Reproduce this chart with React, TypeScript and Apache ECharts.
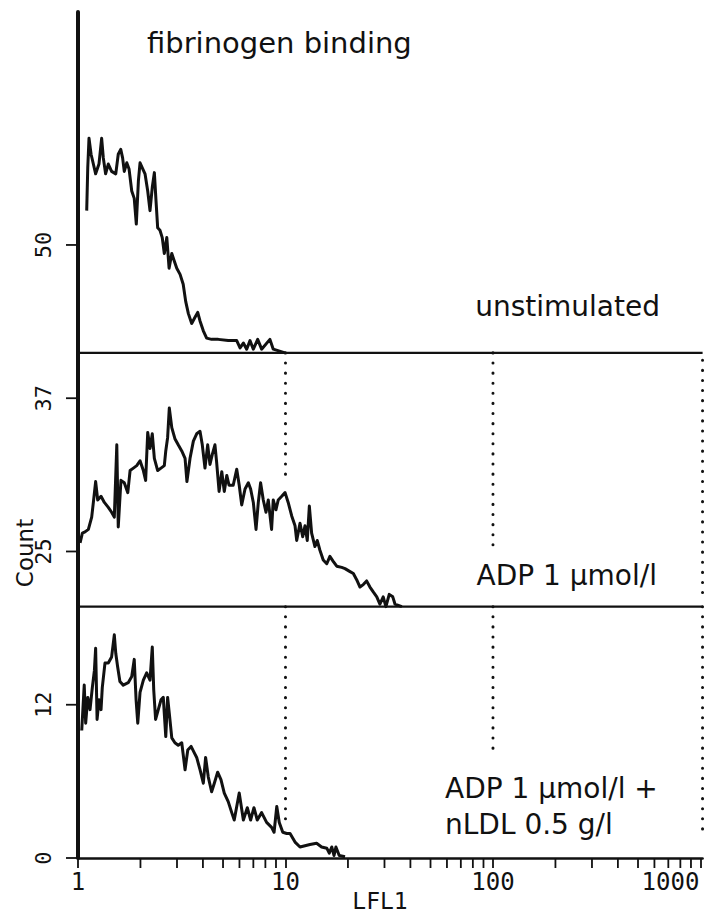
import React, { useEffect, useRef } from "react";
import * as echarts from "echarts";

// x positions are in decades of LFL1 (log10 of fluorescence), counts are per histogram above its own baseline
const unstimDecades = [0.042,0.047,0.053,0.063,0.074,0.085,0.101,0.114,0.122,0.133,0.146,0.162,0.182,0.194,0.206,0.215,0.223,0.235,0.246,0.259,0.271,0.281,0.291,0.299,0.312,0.323,0.336,0.347,0.358,0.368,0.376,0.384,0.395,0.406,0.416,0.428,0.439,0.452,0.464,0.476,0.492,0.507,0.519,0.532,0.548,0.564,0.577,0.588,0.604,0.620,0.644,0.676,0.724,0.765,0.781,0.797,0.813,0.829,0.845,0.866,0.885,0.925,0.941,0.998];
const unstimCounts = [11.6,15.1,17.5,16.2,15.4,14.6,15.4,17.5,15.9,14.6,15.4,14.8,14.6,16.2,16.6,15.9,14.8,15.5,15.0,13.2,12.6,10.5,14.0,15.5,15.0,14.6,13.2,11.6,13.5,14.7,12.4,10.2,10.0,9.4,8.1,9.4,6.9,8.1,7.5,6.9,6.4,5.6,4.2,3.2,2.4,2.9,3.3,2.6,1.8,1.2,1.1,1.1,1.0,1.0,0.4,0.8,0.3,1.0,0.3,1.1,0.3,1.1,0.3,0];

const adpDecades = [0.010,0.021,0.034,0.050,0.066,0.074,0.085,0.095,0.111,0.127,0.146,0.162,0.175,0.187,0.194,0.207,0.223,0.240,0.251,0.267,0.283,0.299,0.315,0.326,0.336,0.347,0.358,0.368,0.384,0.400,0.416,0.423,0.432,0.440,0.452,0.467,0.483,0.500,0.516,0.525,0.540,0.556,0.572,0.588,0.599,0.612,0.625,0.636,0.647,0.660,0.668,0.680,0.693,0.705,0.717,0.728,0.748,0.765,0.777,0.789,0.805,0.821,0.832,0.845,0.858,0.869,0.880,0.893,0.906,0.917,0.933,0.941,0.954,0.965,0.982,0.998,1.013,1.030,1.046,1.054,1.070,1.083,1.094,1.105,1.115,1.126,1.142,1.153,1.166,1.182,1.199,1.214,1.230,1.247,1.271,1.287,1.307,1.327,1.343,1.359,1.375,1.391,1.407,1.423,1.440,1.455,1.471,1.484,1.500,1.517,1.528,1.544,1.561];
const adpCounts = [5.2,6.0,6.1,6.3,7.3,8.5,10.2,8.7,9.0,8.5,8.1,7.7,7.3,13.2,6.5,10.3,10.1,9.3,11.1,11.3,11.5,11.9,11.1,10.3,14.2,12.9,14.1,12.1,11.1,11.3,11.5,12.7,13.8,16.2,14.6,13.7,13.2,12.7,12.1,10.2,12.1,13.5,14.1,14.3,13.2,11.3,13.2,11.6,12.4,13.2,11.8,9.4,11.0,9.4,10.7,9.9,9.9,11.2,9.9,8.3,9.6,10.1,9.6,8.5,6.3,8.5,10.1,8.7,7.7,8.7,6.3,8.7,7.9,8.7,9.0,9.3,8.5,7.4,6.6,5.4,6.8,5.7,6.6,5.4,8.2,6.0,4.9,5.4,4.6,3.8,3.5,4.1,3.7,3.3,3.2,3.1,2.9,2.7,2.2,1.6,1.8,2.1,1.6,1.2,0.8,0.2,0.8,0.0,1.0,0.8,0.2,0.1,0];

const adpLdlDecades = [0.018,0.030,0.037,0.047,0.058,0.069,0.079,0.085,0.092,0.101,0.111,0.117,0.130,0.146,0.162,0.175,0.182,0.191,0.202,0.218,0.242,0.259,0.271,0.280,0.288,0.299,0.315,0.331,0.347,0.358,0.365,0.374,0.387,0.400,0.411,0.423,0.432,0.443,0.452,0.467,0.483,0.500,0.516,0.529,0.545,0.560,0.572,0.588,0.604,0.615,0.628,0.644,0.657,0.673,0.689,0.705,0.724,0.741,0.753,0.777,0.797,0.816,0.832,0.848,0.864,0.885,0.909,0.933,0.945,0.958,0.970,0.987,1.006,1.022,1.046,1.070,1.118,1.150,1.174,1.199,1.211,1.223,1.234,1.243,1.259,1.287];
const adpLdlCounts = [10.4,14.1,11.0,13.1,12.1,13.9,15.3,17.1,11.3,12.9,12.1,13.9,15.9,15.9,16.4,18.2,16.7,15.6,14.4,14.1,14.3,14.8,16.2,12.9,11.0,13.5,14.5,15.1,14.5,17.2,13.7,11.3,12.1,12.9,13.1,9.9,13.1,11.3,9.8,9.4,9.2,9.4,7.2,8.8,9.1,8.6,8.2,7.2,6.1,8.2,6.6,5.4,6.1,7.0,6.4,5.3,4.6,3.7,3.1,5.3,3.1,4.1,3.1,4.1,3.1,3.7,2.9,2.5,2.1,4.2,2.9,2.1,2.0,2.0,1.3,0.9,1.1,1.2,0.9,0.8,0.4,0.9,0.2,0.9,0.2,0.1];

const panelOffsets = [41.2, 20.5, 0];
const xMaxDecade = 3.0103;
const xTickDecades = [0, 1, 2, 3];
const xTickLabels = ["1", "10", "100", "1000"];
const xMinorTickValues = [2, 3, 4, 5, 6, 7, 8, 9, 20, 30, 40, 50, 60, 70, 80, 90, 200, 300, 400, 500, 600, 700, 800, 900];
const yTickValues = [0, 12.5, 25, 37.5, 50];
const yTickLabels = ["0", "12", "25", "37", "50"];
const gateDecades = [1, 2, 3.01];
const midGateSpans = [[41.2, 30.8], [41.2, 25.4], [40.6, 21.0]];
const lowGateSpans = [[20.5, 2.9], [20.5, 8.2], [20.5, 1.6]];

const annotations = [
  { text: "fibrinogen binding", x: 147, y: 43, align: "left", size: 29 },
  { text: "unstimulated", x: 660, y: 306, align: "right", size: 28 },
  { text: "ADP 1 μmol/l", x: 657, y: 575, align: "right", size: 28 },
  { text: "ADP 1 μmol/l +", x: 445, y: 788, align: "left", size: 28 },
  { text: "nLDL 0.5 g/l", x: 445, y: 824, align: "left", size: 28 },
];

const INK = "#111111";

export default function App() {
  const ref = useRef<HTMLDivElement>(null);
  useEffect(() => {
    if (!ref.current) return;
    const chart = echarts.init(ref.current, undefined, { renderer: "svg" });
    const hist = (dec: number[], cnt: number[], off: number) => dec.map((d, i) => [d, cnt[i] + off]);
    const lineStyleHist = { color: INK, width: 3, join: "round" };
    const series: any[] = [
      { type: "line", data: hist(unstimDecades, unstimCounts, panelOffsets[0]), showSymbol: false, lineStyle: lineStyleHist, clip: false },
      { type: "line", data: hist(adpDecades, adpCounts, panelOffsets[1]), showSymbol: false, lineStyle: lineStyleHist, clip: false },
      { type: "line", data: hist(adpLdlDecades, adpLdlCounts, panelOffsets[2]), showSymbol: false, lineStyle: lineStyleHist, clip: false },
    ];
    panelOffsets.slice(0, 2).forEach((off) => {
      series.push({ type: "line", data: [[0, off], [xMaxDecade, off]], showSymbol: false, lineStyle: { color: INK, width: 2.2 }, clip: false });
    });
    const addGates = (spans: number[][]) => {
      spans.forEach((s, i) => {
        series.push({
          type: "line",
          data: [[gateDecades[i], s[0]], [gateDecades[i], s[1]]],
          showSymbol: false,
          clip: false,
          lineStyle: { color: INK, width: 3, type: [0.1, 10], cap: "round" },
        });
      });
    };
    addGates(midGateSpans);
    addGates(lowGateSpans);

    chart.setOption({
      animation: false,
      backgroundColor: "#ffffff",
      grid: { left: 78, right: 2.4, top: 12, bottom: 58, containLabel: false },
      xAxis: {
        type: "value",
        min: 0,
        max: xMaxDecade,
        interval: 1,
        splitLine: { show: false },
        axisLine: { lineStyle: { color: INK, width: 2.5 } },
        axisTick: { show: true, inside: false, length: 10, lineStyle: { color: INK, width: 1.8 } },
        axisLabel: {
          showMaxLabel: false,
          margin: 12,
          color: INK,
          fontFamily: "DejaVu Sans Mono",
          fontSize: 24,
          formatter: (v: number) => {
            const i = xTickDecades.indexOf(v);
            if (i < 0) return "";
            return i === xTickDecades.length - 1 ? "{r|" + xTickLabels[i] + "}" : xTickLabels[i];
          },
          rich: { r: { padding: [0, 60, 0, 0], fontFamily: "DejaVu Sans Mono", fontSize: 24, color: INK } },
        },
      },
      yAxis: {
        type: "value",
        min: 0,
        max: 69,
        interval: 12.5,
        splitLine: { show: false },
        axisLine: { lineStyle: { color: INK, width: 4 } },
        axisTick: { show: false },
        axisLabel: {
          showMaxLabel: false,
          rotate: 90,
          margin: 24,
          color: INK,
          fontFamily: "DejaVu Sans Mono",
          fontSize: 22,
          formatter: (v: number) => {
            const i = yTickValues.indexOf(v);
            return i < 0 ? "" : yTickLabels[i];
          },
        },
      },
      series,
    });

    // tick marks placed through the chart's own scales
    const tickGraphics: any[] = [];
    xMinorTickValues.forEach((v) => {
      const p = chart.convertToPixel({ gridIndex: 0 }, [Math.log10(v), 0]) as number[];
      tickGraphics.push({ type: "rect", z: 100, shape: { x: p[0] - 0.9, y: p[1], width: 1.8, height: 10 }, style: { fill: INK } });
    });
    yTickValues.forEach((v) => {
      const p = chart.convertToPixel({ gridIndex: 0 }, [0, v]) as number[];
      tickGraphics.push({ type: "rect", z: 100, shape: { x: p[0] - 12, y: p[1] - 0.9, width: 12, height: 1.8 }, style: { fill: INK } });
    });

    chart.setOption({
      graphic: [
        ...annotations.map((a) => ({
          type: "text",
          x: a.x,
          y: a.y,
          style: {
            text: a.text,
            fill: INK,
            fontFamily: "DejaVu Sans",
            fontSize: a.size,
            textAlign: a.align,
            textVerticalAlign: "middle",
          },
        })),
        {
          type: "text",
          x: 380,
          y: 901,
          style: { text: "LFL1", fill: INK, fontFamily: "DejaVu Sans Mono", fontSize: 23, textAlign: "center", textVerticalAlign: "middle" },
        },
        {
          type: "text",
          x: 25,
          y: 553,
          rotation: Math.PI / 2,
          style: { text: "Count", fill: INK, fontFamily: "DejaVu Sans", fontSize: 23, textAlign: "center", textVerticalAlign: "middle" },
        },
        ...tickGraphics,
      ],
    });
    return () => chart.dispose();
  }, []);
  return <div ref={ref} style={{ position: "fixed", left: 0, top: 0, width: 705, height: 916, background: "#fff" }} />;
}
